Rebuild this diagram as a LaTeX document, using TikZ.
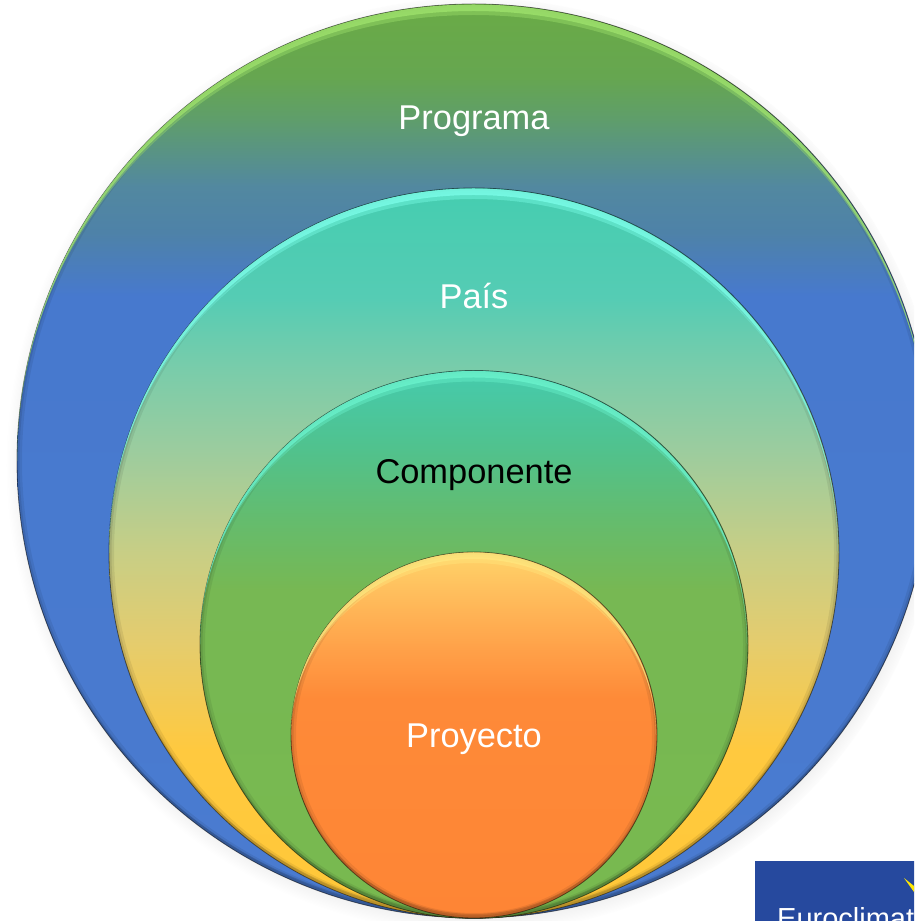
\documentclass[tikz,border=0pt]{standalone}
\usepackage{fontspec}
\setmainfont{Liberation Sans}
\usetikzlibrary{shadows}
\definecolor{blueA}{HTML}{4A7BD0}
\definecolor{blueB}{HTML}{4779CE}
\definecolor{blueC}{HTML}{4E82A8}
\definecolor{blueD}{HTML}{5288A0}
\definecolor{leafA}{HTML}{5F9E6A}
\definecolor{leafB}{HTML}{66A650}
\definecolor{leafC}{HTML}{6AAB46}
\definecolor{leafrim}{HTML}{A0E46E}
\definecolor{sandA}{HTML}{FFC838}
\definecolor{sandB}{HTML}{FFC93F}
\definecolor{sandC}{HTML}{E4CC6E}
\definecolor{sandD}{HTML}{C8CE85}
\definecolor{mintA}{HTML}{9CCC9E}
\definecolor{mintB}{HTML}{7ACCAA}
\definecolor{mintC}{HTML}{55CCB4}
\definecolor{mintD}{HTML}{45CDB0}
\definecolor{mintrim}{HTML}{7DFFEA}
\definecolor{grassA}{HTML}{78B94F}
\definecolor{grassB}{HTML}{77B853}
\definecolor{grassC}{HTML}{64BC6E}
\definecolor{grassD}{HTML}{50C28E}
\definecolor{grassE}{HTML}{45CBAD}
\definecolor{grassrim}{HTML}{6CF5CE}
\definecolor{fruitA}{HTML}{FE8535}
\definecolor{fruitB}{HTML}{FE8A38}
\definecolor{fruitC}{HTML}{FFA048}
\definecolor{fruitD}{HTML}{FFC05E}
\definecolor{fruitE}{HTML}{FFD469}
\definecolor{fruitrim}{HTML}{FFE77E}
\definecolor{logoblue}{HTML}{26499E}
\pgfdeclareverticalshading{programafill}{100bp}{
    color(0bp)=(blueA); color(25bp)=(blueA); color(59bp)=(blueB); color(62.5bp)=(blueC);
    color(65bp)=(blueD); color(68.75bp)=(leafA); color(71bp)=(leafB); color(75bp)=(leafC); color(100bp)=(leafC)}
\pgfdeclareverticalshading{paisfill}{100bp}{
    color(0bp)=(sandA); color(25bp)=(sandA); color(36.5bp)=(sandB); color(44bp)=(sandC); color(50bp)=(sandD);
    color(57bp)=(mintA); color(62.5bp)=(mintB); color(67.5bp)=(mintC); color(75bp)=(mintD); color(100bp)=(mintD)}
\pgfdeclareverticalshading{componentefill}{100bp}{
    color(0bp)=(grassA); color(25bp)=(grassA); color(55bp)=(grassB); color(61.5bp)=(grassC);
    color(68bp)=(grassD); color(75bp)=(grassE); color(100bp)=(grassE)}
\pgfdeclareverticalshading{proyectofill}{100bp}{
    color(0bp)=(fruitA); color(25bp)=(fruitA); color(55bp)=(fruitB); color(61.5bp)=(fruitC);
    color(70bp)=(fruitD); color(75bp)=(fruitE); color(100bp)=(fruitE)}
\tikzset{
    disc/.style={circle,anchor=south,draw=black,draw opacity=.5,line width=.8pt,inner sep=0,outer sep=0},
    programa/.style={disc,minimum size=914pt,shading=programafill,
        circular drop shadow={shadow scale=1.025,shadow yshift=-3pt,opacity=.45}},
    pais/.style={disc,minimum size=730pt,shading=paisfill},
    componente/.style={disc,minimum size=548pt,shading=componentefill},
    proyecto/.style={disc,minimum size=366pt,shading=proyectofill},
    tag/.style={font=\fontsize{34.4}{40}\selectfont,text=white,inner sep=0}
}
% soft dark edge all round, then light band along the top and dark band along the bottom
\newcommand{\rim}[3]{
    \draw[black,opacity=.07,line width=5pt] (#1.center) circle[radius=#2-2.5];
    \draw[black,opacity=.09,line width=2.5pt] (#1.center) circle[radius=#2-1.25];
    \fill[#3,opacity=.4] (#1.west) arc[start angle=180,end angle=0,radius=#2-.5]
        arc[start angle=0,end angle=180,x radius=#2-.5,y radius=#2-11];
    \fill[#3,opacity=.75] (#1.west) arc[start angle=180,end angle=0,radius=#2-.5]
        arc[start angle=0,end angle=180,x radius=#2-.5,y radius=#2-7];
    \fill[black,opacity=.14] (#1.west) arc[start angle=180,end angle=360,radius=#2]
        arc[start angle=360,end angle=180,x radius=#2,y radius=#2-4];
}
\begin{document}
\begin{tikzpicture}[x=1pt,y=1pt]
    \clip (0,0) rectangle (914,921);
    \node[programa] (programa) at (474,3) {};
    \rim{programa}{457}{leafrim}
    \node[pais] (pais) at (474,3) {};
    \rim{pais}{365}{mintrim}
    \node[componente] (componente) at (474,2.5) {};
    \rim{componente}{274}{grassrim}
    \node[proyecto] (proyecto) at (474,3) {};
    \rim{proyecto}{183}{fruitrim}

    \node[tag] (programalabel) at (474,800) {Programa};
    \node[tag] (paislabel) at (474,625) {País};
    \node[tag,text=black] (componentelabel) at (474,446) {Componente};
    \node[tag] (proyectolabel) at (474,182) {Proyecto};

    \node[fill=logoblue,anchor=north west,minimum width=200pt,minimum height=80pt,inner sep=0] (logo) at (755,60) {};
    \fill[yellow!90!orange] (904,43) -- (914,35) -- (914,29) -- cycle;
    \node[anchor=base west,font=\fontsize{29}{34}\selectfont,text=white,inner sep=0] (logotext) at (777,-8) {Euroclimat};
\end{tikzpicture}
\end{document}
